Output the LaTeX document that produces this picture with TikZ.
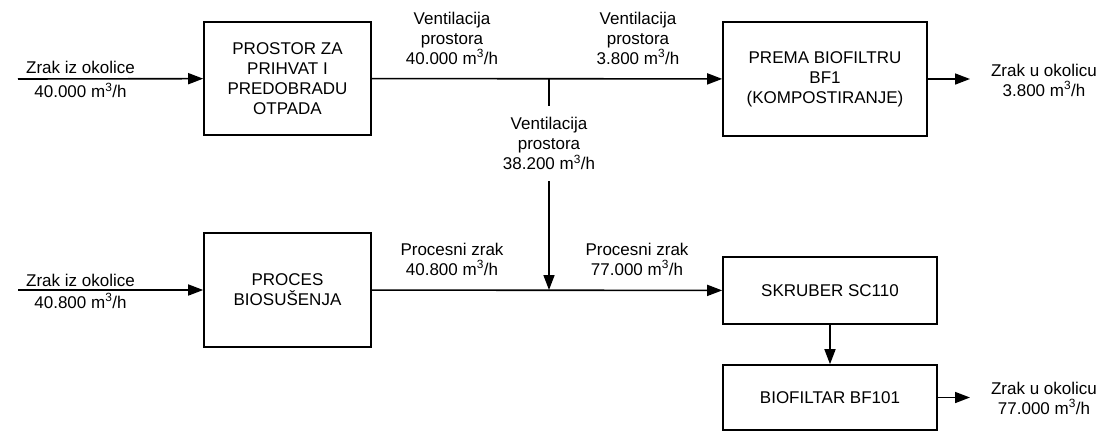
\documentclass[tikz,border=0pt]{standalone}
\usepackage{fontspec}
\setmainfont{Liberation Sans}
\usetikzlibrary{arrows.meta,positioning}
\newcommand{\mh}{m\textsuperscript{3}/h}
\begin{document}
\begin{tikzpicture}[x=1pt,y=-1pt,line width=1.6pt,>={Triangle[length=15pt,width=11pt]},
  font=\fontsize{17}{20}\selectfont,
  box/.style={draw,align=center,inner sep=0pt},
  lbl/.style={align=center,inner sep=0pt}]
\useasboundingbox (0,0) rectangle (1100,432);
% blocks
\node[box,minimum width=167pt,minimum height=113pt] (prostor) at (287.5,78.5) {PROSTOR ZA\\PRIHVAT I\\PREDOBRADU\\OTPADA};
\node[box,minimum width=204pt,minimum height=114pt] (bf1) at (825,79) {PREMA BIOFILTRU\\BF1\\(KOMPOSTIRANJE)};
\node[box,minimum width=167pt,minimum height=114pt] (proces) at (287.5,290) {PROCES\\BIOSUŠENJA};
\node[box,minimum width=214pt,minimum height=67pt] (skruber) at (830,290.5) {SKRUBER SC110};
\node[box,minimum width=214pt,minimum height=65pt] (bf101) at (830,397.5) {BIOFILTAR BF101};
% free ends
\coordinate (in1) at (18,79);
\coordinate (in2) at (18,290);
\coordinate (br) at (549,79);
\coordinate (mg) at (549,290);
\coordinate (out1) at (970,79);
\coordinate (out2) at (970,397.5);
% flows
\draw[->] (in1) -- (prostor);
\draw[->] (in2) -- (proces);
\draw[->] (prostor) -- (bf1);
\draw[->] (proces) -- (skruber);
\draw[->] (br) -- node[pos=0.305,fill=white,inner xsep=2pt,inner ysep=11pt,align=center] (vent3) {Ventilacija\\prostora\\38.200 \mh} (mg);
\draw[->] (skruber) -- (bf101);
\draw[->] (bf1) -- (out1);
\draw[->] (bf101) -- (out2);
% labels
\node[lbl,anchor=base] (z1) at (80.5,73.5) {Zrak iz okolice};
\node[lbl,anchor=base] (q1) at (80.5,97.5) {40.000 \mh};
\node[lbl,anchor=base] (z2) at (80.5,286) {Zrak iz okolice};
\node[lbl,anchor=base] (q2) at (80.5,308) {40.800 \mh};
\node[lbl,anchor=south] (vent1) at (452,65) {Ventilacija\\prostora\\40.000 \mh};
\node[lbl,anchor=south] (vent2) at (638,65) {Ventilacija\\prostora\\3.800 \mh};
\node[lbl,anchor=south] (pz1) at (452,276) {Procesni zrak\\40.800 \mh};
\node[lbl,anchor=south] (pz2) at (637,276) {Procesni zrak\\77.000 \mh};
\node[lbl] (o1) at (1044,80) {Zrak u okolicu\\3.800 \mh};
\node[lbl] (o2) at (1044,398) {Zrak u okolicu\\77.000 \mh};
\end{tikzpicture}
\end{document}
